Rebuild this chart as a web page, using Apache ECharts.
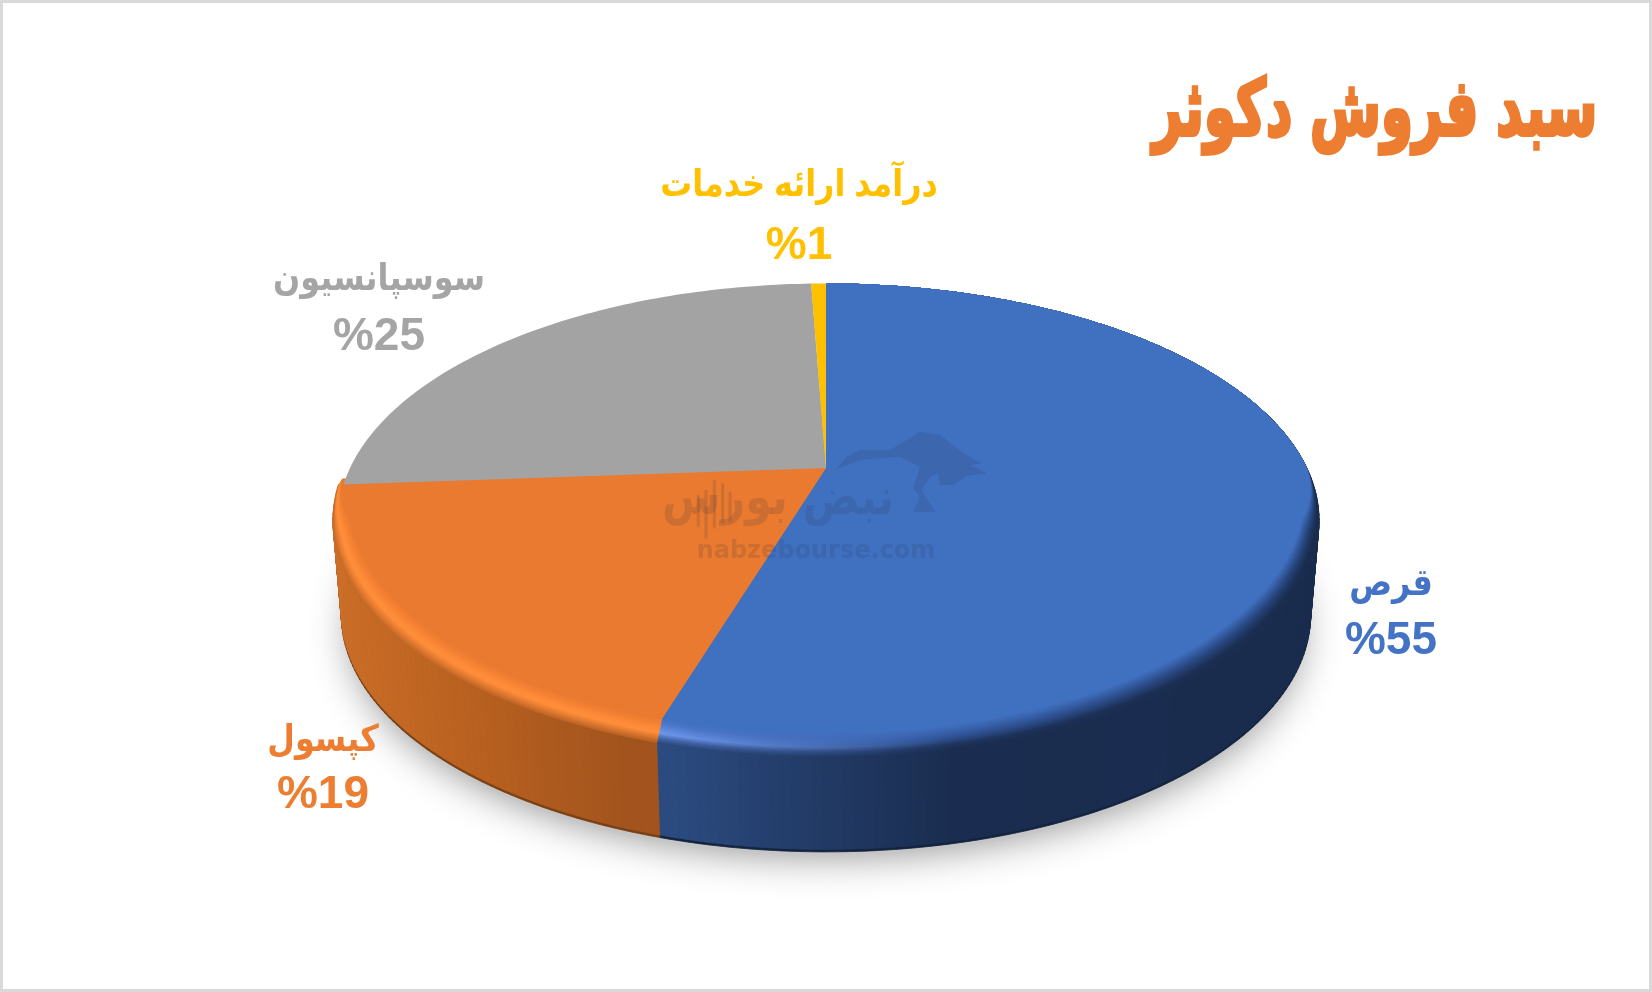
<!DOCTYPE html>
<html><head><meta charset="utf-8">
<style>html,body{margin:0;padding:0;background:#fff}#c{width:1652px;height:992px}</style>
<script src="https://cdn.jsdelivr.net/npm/echarts@6/dist/echarts.min.js"></script>
</head><body><div id="c"></div>
<script>
// Data (slice sizes; the labels show them rounded)
const categories = ['قرص', 'کپسول', 'سوسپانسیون', 'درآمد ارائه خدمات'];
const shares = [54.5, 19.45, 25.45, 0.6];
const titleText = 'سبد فروش دکوثر';

// Look
const surface = ['#4070C0', '#E97A2F', '#A3A3A3', '#FFC000'];
const labelColor = ['#4472C4', '#ED7D31', '#A5A5A5', '#FFC000'];
const labelAnchor = [[1391, 585, 641], [323, 741, 795], [379, 280, 337], [799, 186, 246]];
const wallColors = [['#2C4C82', '#1A2D50', '#1A2C4E'], ['#CB6E28', '#B8601F', '#A3541E']];
const wallEdge = ['#13233F', '#7A3F12'];
const rim = [
  { left: ['#2C4C82', '#4468AE', '#6E98EE', '#5B86DA', '#4A76C8', '#4070C0'],
    mid:  ['#1A2D50', '#1E3560', '#2B4A85', '#3358A0', '#3A66B0', '#4070C0'],
    right:['#1A2C4E', '#1A2C4E', '#1E3660', '#27457C', '#335A9F', '#4070C0'] },
  { left: ['#C46A28', '#E87C30', '#FF8E3A', '#FB8836', '#F27F32', '#E97A2F'],
    mid:  ['#BE6426', '#E27A30', '#FF8E3A', '#FB8836', '#F27F32', '#E97A2F'],
    right:['#A8581F', '#D0702A', '#FF8F3D', '#FB8836', '#F27F32', '#E97A2F'] },
  null, null
];

// Projection of the disc (perspective: the pie centre sits above the ellipse centre)
const cx = 826, apexY = 469.5, R = 481.5, S = 226, K = 0.215, DEPTH = 92;
function rimPoint(deg) {
  const a = deg * Math.PI / 180, X = Math.sin(a), Y = -Math.cos(a), w = 1 - K * Y;
  return [cx + R * X / w, apexY + S * Y / w];
}
function inset(p, t) {
  const f = Math.min(1, Math.max(0, (p[1] - apexY + 5) / 80));
  return [cx + (p[0] - cx) * (1 - 0.03 * t * f), p[1] - 24 * t * f];
}
function arc(a, b) {
  const pts = [], n = Math.max(2, Math.ceil(Math.abs(b - a)));
  for (let i = 0; i <= n; i++) pts.push(rimPoint(a + (b - a) * i / n));
  return pts;
}
function base(p, dy) { return [cx + (p[0] - cx) * 0.983, p[1] + dy]; }
const grad = stops => ({ type: 'linear', x: 0, y: 0, x2: 1, y2: 0,
  colorStops: stops.map(s => ({ offset: s[0], color: s[1] })) });

const total = shares.reduce((a, b) => a + b, 0);
const starts = []; shares.reduce((acc, v, i) => (starts[i] = acc, acc + v), 0);

function renderItem(params, api) {
  const i = api.value(0), v = api.value(1);
  const a = starts[i] / total * 360, b = a + v / total * 360;
  const children = [];
  // wall, only for the part facing the viewer: one strip per degree
  const from = Math.max(a, 75);
  const to = Math.min(b, 285);
  if (i < 2 && to > from) {
    const top = arc(from, to);
    const xs = top.map(p => p[0]), xMin = Math.min(...xs), xMax = Math.max(...xs);
    for (let k = 0; k < top.length - 1; k++) {
      const p = top[k], q = top[k + 1];
      const u = (p[0] - xMin) / (xMax - xMin);
      const col = echarts.color.lerp(Math.min(1, u / 0.9), wallColors[i]);
      children.push({ type: 'polygon', z2: 1, silent: true,
        shape: { points: [p, q, base(q, DEPTH + 2.5), base(p, DEPTH + 2.5)] },
        style: { fill: wallEdge[i], stroke: wallEdge[i], lineWidth: 0.8 } });
      children.push({ type: 'polygon', z2: 2, silent: true,
        shape: { points: [p, q, base(q, DEPTH), base(p, DEPTH)] },
        style: { fill: col, stroke: col, lineWidth: 0.8 } });
    }
  }
  // top face with a bevelled rim
  const outer = arc(a, b);
  const LAYERS = 20;
  if (rim[i]) {
    for (let l = 0; l < LAYERS; l++) {
      const t = l / LAYERS;
      children.push({ type: 'polygon', z2: 10 + l, silent: true,
        shape: { points: [inset([cx, apexY], t)].concat(outer.map(p => inset(p, t))) },
        style: { fill: grad([
          [0, echarts.color.lerp(t, rim[i].left)],
          [0.45, echarts.color.lerp(t, rim[i].mid)],
          [1, echarts.color.lerp(t, rim[i].right)]]) } });
    }
  }
  const squeeze = p => (i === 2 ? [cx + (p[0] - cx) * 0.99, p[1]] : p);
  children.push({ type: 'polygon', z2: 40,
    shape: { points: [inset([cx, apexY], 1)].concat(outer.map(p => squeeze(inset(p, rim[i] ? 1 : 0)))) },
    style: { fill: surface[i] } });
  // label
  const anc = labelAnchor[i];
  children.push({ type: 'text', z2: 60, silent: true, x: anc[0], y: anc[1], scaleX: 0.86,
    style: { text: categories[i], x: 0, y: 0, align: 'center', verticalAlign: 'middle',
      fill: labelColor[i], font: 'bold 37px "Liberation Sans","DejaVu Sans",sans-serif' } });
  children.push({ type: 'text', z2: 60, silent: true,
    style: { text: '%' + Math.round(v), x: anc[0], y: anc[2], align: 'center', verticalAlign: 'middle',
      fill: labelColor[i], font: 'bold 46px "Liberation Sans","DejaVu Sans",sans-serif' } });
  return { type: 'group', children };
}

const bull = [[645,180],[680,140],[720,120],[810,120],[860,90],[900,65],[960,75],[1030,130],[1085,160],[1050,165],[1100,190],[1040,198],[1000,225],[960,225],[955,190],[930,200],[905,240],[945,305],[880,305],[900,262],[880,235],[900,170],[840,140],[770,145],[720,150]]
  .map(p => [620 + p[0] / 3, 410 + p[1] / 3]);
const wm = 'rgba(40,50,70,0.15)';
const candles = [[235,255,350],[258,240,385],[283,210,355],[308,220,340],[330,245,335]].map(c => ({
  type: 'rect', z: 10, silent: true,
  shape: { x: 620 + c[0] / 3 - 1.5, y: 410 + c[1] / 3, width: 3, height: (c[2] - c[1]) / 3 },
  style: { fill: wm } }));

const chart = echarts.init(document.getElementById('c'), null, { renderer: 'canvas' });
chart.setOption({
  animation: false,
  backgroundColor: '#fff',
  graphic: [
    { type: 'rect', z: 0, silent: true, shape: { x: 1.5, y: 1.5, width: 1649, height: 989 },
      style: { fill: 'none', stroke: '#D9D9D9', lineWidth: 3 } },
    { type: 'ellipse', z: 0, silent: true, shape: { cx: cx, cy: 630, rx: 474, ry: 225 },
      style: { fill: '#c6c6c6', shadowBlur: 40, shadowColor: 'rgba(0,0,0,0.45)' } },
    { type: 'text', z: 5, x: 1375, y: 115, scaleX: 0.658,
      style: { text: titleText, x: 0, y: 0, align: 'center', verticalAlign: 'middle',
        fill: '#ED7D31', stroke: '#ED7D31', lineWidth: 4, font: 'bold 78px "DejaVu Sans"' } },
    { type: 'polygon', z: 10, silent: true, shape: { points: bull }, style: { fill: wm } },
    { type: 'text', z: 10, silent: true, x: 778, y: 501, scaleX: 0.85,
      style: { text: 'نبض بورس', x: 0, y: 0, align: 'center', verticalAlign: 'middle',
        fill: wm, font: 'bold 50px "DejaVu Sans"' } },
    { type: 'text', z: 10, silent: true,
      style: { text: 'nabzebourse.com', x: 816, y: 552, align: 'center', verticalAlign: 'middle',
        fill: wm, font: 'bold 24px "DejaVu Sans"' } }
  ].concat(candles),
  series: [{
    type: 'custom', coordinateSystem: 'none', clip: false, z: 2,
    renderItem,
    encode: { itemName: 2, value: 1 },
    data: categories.map((c, i) => [i, shares[i], c])
  }]
});
</script></body></html>
